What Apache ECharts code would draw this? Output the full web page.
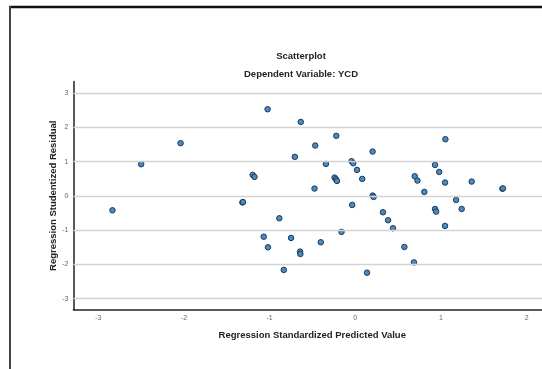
<!DOCTYPE html>
<html>
<head>
<meta charset="utf-8">
<script src="https://cdn.jsdelivr.net/npm/echarts@6/dist/echarts.min.js"></script>
<style>
html,body{margin:0;padding:0;background:#fff;}
#chart{width:542px;height:369px;}
</style>
</head>
<body>
<div id="chart"></div>
<script>
// Regression Standardized Predicted Value
const predicted = [-2.835,-2.50,-2.04,-1.318,-1.312,-1.198,-1.177,-1.069,-1.024,-1.02,-0.887,-0.835,-0.75,-0.706,-0.645,-0.641,-0.637,-0.476,-0.468,-0.403,-0.343,-0.242,-0.226,-0.214,-0.222,-0.161,-0.044,-0.024,-0.036,0.02,0.081,0.137,0.202,0.202,0.214,0.323,0.383,0.44,0.573,0.685,0.694,0.726,0.806,0.931,0.931,0.944,0.98,1.048,1.048,1.052,1.177,1.242,1.359,1.718,1.724];
// Regression Studentized Residual
const residual = [-0.42,0.925,1.54,-0.19,-0.18,0.613,0.555,-1.19,2.53,-1.50,-0.652,-2.16,-1.227,1.14,-1.626,-1.694,2.16,0.214,1.47,-1.353,0.935,0.535,0.487,0.438,1.753,-1.05,1.013,0.954,-0.263,0.76,0.497,-2.24,1.295,0.01,-0.03,-0.477,-0.71,-0.944,-1.49,-1.94,0.574,0.448,0.117,0.906,-0.38,-0.458,0.70,0.39,-0.876,1.655,-0.117,-0.38,0.419,0.209,0.219];
const xTicks = [-3,-2,-1,0,1,2];
const yTicks = [-3,-2,-1,0,1,2,3];
const titleText = 'Scatterplot';
const subtitleText = 'Dependent Variable: YCD';
const xName = 'Regression Standardized Predicted Value';
const yName = 'Regression Studentized Residual';

const points = predicted.map((x,i)=>[x,residual[i]]);
const FONT = '"Liberation Sans", Arial, sans-serif';

const chart = echarts.init(document.getElementById('chart'), null, {renderer:'canvas'});
chart.setOption({
  animation:false,
  backgroundColor:'#fff',
  title:[
    {text:titleText, left:296, top:46, textAlign:'center',
     textStyle:{fontFamily:FONT,fontSize:9.5,fontWeight:'bold',color:'#222'}},
    {text:subtitleText, left:296, top:64, textAlign:'center',
     textStyle:{fontFamily:FONT,fontSize:9.5,fontWeight:'bold',color:'#222'}}
  ],
  graphic:[
    {type:'line', shape:{x1:9,y1:7,x2:542,y2:7}, style:{stroke:'#111',lineWidth:2.5}, silent:true},
    {type:'line', shape:{x1:10,y1:6,x2:10,y2:369}, style:{stroke:'#444',lineWidth:2}, silent:true}
  ],
  grid:{left:73.5, right:0, top:81.5, bottom:59, containLabel:false},
  xAxis:{
    type:'value', min:-3.29, max:2.18,
    name:xName, nameLocation:'middle', nameGap:20, nameMoveOverlap:false,
    nameTextStyle:{fontFamily:FONT,fontSize:9.5,fontWeight:'bold',color:'#222',padding:[0,0,0,9]},
    axisLine:{show:true,onZero:false,lineStyle:{color:'#222',width:1.5}},
    axisTick:{show:false},
    splitLine:{show:false},
    axisLabel:{customValues:xTicks, fontFamily:FONT, fontSize:7, color:'#666', margin:5}
  },
  yAxis:{
    type:'value', min:-3.33, max:3.34,
    name:yName, nameLocation:'middle', nameGap:15.5, nameMoveOverlap:false,
    nameTextStyle:{fontFamily:FONT,fontSize:9.5,fontWeight:'bold',color:'#222'},
    axisLine:{show:true,onZero:false,lineStyle:{color:'#222',width:1.5}},
    axisTick:{show:false},
    splitLine:{show:false},
    axisLabel:{customValues:yTicks, fontFamily:FONT, fontSize:7, color:'#666', margin:5}
  },
  series:[{
    type:'scatter',
    data:points,
    symbol:'circle',
    symbolSize:5.5,
    itemStyle:{color:'#4b8ac0', borderColor:'#1c3a58', borderWidth:1, opacity:1},
    z:3,
    markLine:{
      silent:true, symbol:'none', animation:false,
      label:{show:false},
      lineStyle:{type:'solid', color:'#d3d3d3', width:1.4},
      emphasis:{disabled:true},
      data: yTicks.map(v=>({yAxis:v}))
    }
  }]
});
</script>
</body>
</html>
